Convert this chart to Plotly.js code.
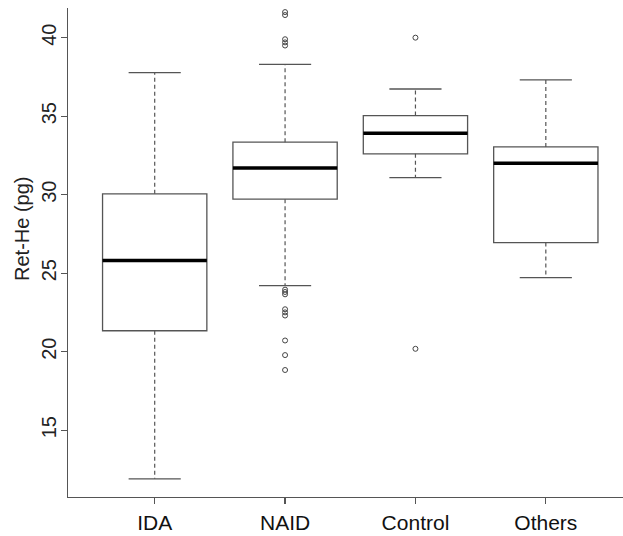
<!DOCTYPE html>
<html>
<head>
<meta charset="utf-8">
<script src="https://cdn.plot.ly/plotly-3.0.1.min.js"></script>
<style>html,body{margin:0;padding:0;background:#fff;}#chart{width:623px;height:536px;}</style>
</head>
<body>
<div id="chart"></div>
<script>
// ---- data ----
const categories = ['IDA', 'NAID', 'Control', 'Others'];
const q1Values = [21.33, 29.71, 32.60, 26.95];
const medianValues = [25.80, 31.69, 33.91, 32.00];
const q3Values = [30.05, 33.34, 35.04, 33.04];
const lowerWhisker = [11.90, 24.21, 31.09, 24.72];
const upperWhisker = [37.77, 38.30, 36.73, 37.31];
const outliersIDA = [];
const outliersNAID = [41.63, 41.44, 39.90, 39.70, 39.50, 23.95, 23.80, 23.65, 22.70, 22.50, 22.30, 20.71, 19.78, 18.83];
const outliersControl = [40.00, 20.18];
const outliersOthers = [];
const outlierSets = [outliersIDA, outliersNAID, outliersControl, outliersOthers];
const yTicks = [15, 20, 25, 30, 35, 40];

// ---- styles ----
const boxHalf = 0.4, capHalf = 0.2;
const lineGray = '#555555';
const traces = [];

categories.forEach((c, i) => {
  traces.push({
    type: 'box', x: [i], q1: [q1Values[i]], median: [medianValues[i]], q3: [q3Values[i]],
    lowerfence: [q1Values[i]], upperfence: [q3Values[i]],
    width: 2 * boxHalf, whiskerwidth: 0, boxpoints: false,
    line: {color: lineGray, width: 1.3}, fillcolor: '#ffffff',
    showlegend: false, hoverinfo: 'skip'
  });
});

// whiskers (dashed)
const wx = [], wy = [];
categories.forEach((c, i) => {
  wx.push(i, i, null, i, i, null);
  wy.push(q3Values[i], upperWhisker[i], null, q1Values[i], lowerWhisker[i], null);
});
traces.push({type: 'scatter', mode: 'lines', x: wx, y: wy, line: {color: lineGray, width: 1.2, dash: '4px,3px'}, showlegend: false, hoverinfo: 'skip'});

// caps
const cx = [], cy = [];
categories.forEach((c, i) => {
  cx.push(i - capHalf, i + capHalf, null, i - capHalf, i + capHalf, null);
  cy.push(upperWhisker[i], upperWhisker[i], null, lowerWhisker[i], lowerWhisker[i], null);
});
traces.push({type: 'scatter', mode: 'lines', x: cx, y: cy, line: {color: lineGray, width: 1.3}, showlegend: false, hoverinfo: 'skip'});

// medians (thick)
const mx = [], my = [];
categories.forEach((c, i) => {
  mx.push(i - boxHalf, i + boxHalf, null);
  my.push(medianValues[i], medianValues[i], null);
});
traces.push({type: 'scatter', mode: 'lines', x: mx, y: my, line: {color: '#000000', width: 3.5}, showlegend: false, hoverinfo: 'skip'});

// outliers
const ox = [], oy = [];
outlierSets.forEach((arr, i) => arr.forEach(v => { ox.push(i); oy.push(v); }));
traces.push({type: 'scatter', mode: 'markers', x: ox, y: oy,
  marker: {symbol: 'circle-open', size: 5, color: '#444444', line: {width: 1}},
  showlegend: false, hoverinfo: 'skip'});

const layout = {
  width: 623, height: 536,
  margin: {l: 68, r: 0, t: 8, b: 39},
  paper_bgcolor: '#ffffff', plot_bgcolor: '#ffffff',
  font: {family: 'Liberation Sans, Arial, sans-serif', color: '#222222'},
  xaxis: {
    range: [-0.665, 3.592], tickmode: 'array', tickvals: categories.map((c, i) => i), ticktext: categories,
    showline: true, linecolor: lineGray, linewidth: 1.3, mirror: false,
    ticks: 'outside', ticklen: 6, tickcolor: lineGray, tickwidth: 1.2,
    showgrid: false, zeroline: false, tickfont: {size: 21, color: '#111111'}
  },
  yaxis: {
    range: [10.74, 41.89], tickmode: 'array', tickvals: yTicks,
    showline: true, linecolor: lineGray, linewidth: 1.3, mirror: false,
    ticks: 'outside', ticklen: 6, tickcolor: lineGray, tickwidth: 1.2,
    tickangle: -90, ticklabelstandoff: -3, showgrid: false, zeroline: false,
    tickfont: {size: 20, color: '#222222'}
  },
  annotations: [{
    text: 'Ret-He (pg)', xref: 'paper', yref: 'paper', x: -0.083, y: 0.548,
    xanchor: 'center', yanchor: 'middle', textangle: -90, showarrow: false,
    font: {size: 20, color: '#222222'}
  }]
};

Plotly.newPlot('chart', traces, layout, {staticPlot: true, displayModeBar: false});
</script>
</body>
</html>
